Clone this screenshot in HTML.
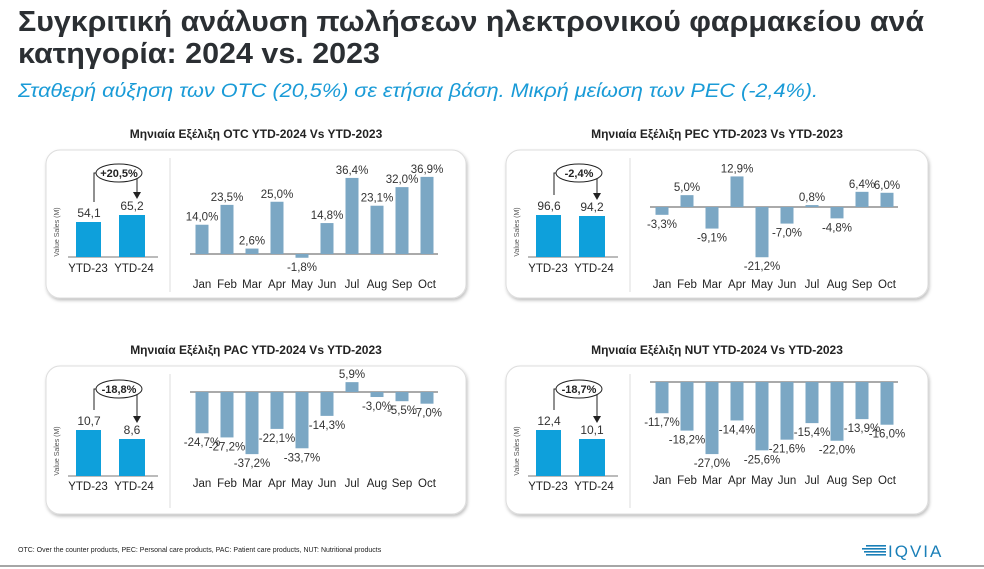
<!DOCTYPE html>
<html><head><meta charset="utf-8">
<style>
html,body{margin:0;padding:0;background:#fff;width:984px;height:569px;overflow:hidden}
svg{display:block;font-family:"Liberation Sans",sans-serif}
</style></head>
<body>
<svg id="s" width="984" height="569" viewBox="0 0 984 569" xmlns="http://www.w3.org/2000/svg">
<defs>
<filter id="sh" x="-5%" y="-5%" width="110%" height="115%"><feDropShadow dx="1" dy="2" stdDeviation="1.5" flood-color="#000" flood-opacity="0.25"/></filter>
</defs>
<text x="18" y="31" font-size="29" font-weight="bold" fill="#2b2f33" textLength="906" lengthAdjust="spacingAndGlyphs">Συγκριτική ανάλυση πωλήσεων ηλεκτρονικού φαρμακείου ανά</text>
<text x="18" y="63" font-size="29" font-weight="bold" fill="#2b2f33" textLength="362" lengthAdjust="spacingAndGlyphs">κατηγορία: 2024 vs. 2023</text>
<text x="18" y="97" font-size="19" font-style="italic" fill="#1a9bd7" textLength="800" lengthAdjust="spacingAndGlyphs">Σταθερή αύξηση των OTC (20,5%) σε ετήσια βάση. Μικρή μείωση των PEC (-2,4%).</text>
<g id="panels"></g>
<text x="18" y="552" font-size="7" fill="#222">OTC: Over the counter products, PEC: Personal care products, PAC: Patient care products, NUT: Nutritional products</text>
<g fill="#1a7fb8">
<rect x="866" y="545" width="20" height="1.6"/><rect x="862" y="548" width="24" height="1.6"/><rect x="864" y="551" width="22" height="1.6"/><rect x="866" y="554" width="20" height="1.6"/>
</g>
<text x="888" y="557" font-size="17" fill="#1a7fb8" letter-spacing="2">IQVIA</text>
<line x1="0" y1="566" x2="984" y2="566" stroke="#888" stroke-width="1.5"/>
</svg>
<script>
const M=["Jan","Feb","Mar","Apr","May","Jun","Jul","Aug","Sep","Oct"];
const P=[
 {t:"Μηνιαία Εξέλιξη OTC YTD-2024 Vs YTD-2023",x:46,y:150,w:420,ch:"+20,5%",a:"54,1",b:"65,2",at:222,bt:215,lb:257,yl:272,base:254,sc:2.09,ml:288,v:[14.0,23.5,2.6,25.0,-1.8,14.8,36.4,23.1,32.0,36.9]},
 {t:"Μηνιαία Εξέλιξη PEC YTD-2023 Vs YTD-2023",x:506,y:150,w:422,ch:"-2,4%",a:"96,6",b:"94,2",at:215,bt:216,lb:257,yl:272,base:207,sc:2.37,ml:288,v:[-3.3,5.0,-9.1,12.9,-21.2,-7.0,0.8,-4.8,6.4,6.0]},
 {t:"Μηνιαία Εξέλιξη PAC YTD-2024 Vs YTD-2023",x:46,y:366,w:420,ch:"-18,8%",a:"10,7",b:"8,6",at:430,bt:439,lb:476,yl:490,base:392,sc:1.67,ml:487,v:[-24.7,-27.2,-37.2,-22.1,-33.7,-14.3,5.9,-3.0,-5.5,-7.0]},
 {t:"Μηνιαία Εξέλιξη NUT YTD-2024 Vs YTD-2023",x:506,y:366,w:422,ch:"-18,7%",a:"12,4",b:"10,1",at:430,bt:439,lb:476,yl:490,base:382,sc:2.67,ml:484,v:[-11.7,-18.2,-27.0,-14.4,-25.6,-21.6,-15.4,-22.0,-13.9,-16.0]}
];
let h="";
for(const p of P){
 const cx=p.x+p.w/2;
 h+=`<text x="${cx}" y="${p.y-12}" font-size="12" font-weight="bold" fill="#222" text-anchor="middle">${p.t}</text>`;
 h+=`<rect x="${p.x}" y="${p.y}" width="${p.w}" height="148" rx="14" fill="#fff" stroke="#ddd" stroke-width="1" filter="url(#sh)"/>`;
 h+=`<line x1="${p.x+124}" y1="${p.y+8}" x2="${p.x+124}" y2="${p.y+142}" stroke="#ddd"/>`;
 h+=`<text transform="translate(${p.x+13},${p.lb-25}) rotate(-90)" font-size="7" fill="#555" text-anchor="middle">Value Sales (M)</text>`;
 h+=`<line x1="${p.x+22}" y1="${p.lb}" x2="${p.x+112}" y2="${p.lb}" stroke="#777"/>`;
 h+=`<rect x="${p.x+30}" y="${p.at}" width="25" height="${p.lb-p.at}" fill="#0ea0db"/>`;
 h+=`<rect x="${p.x+73}" y="${p.bt}" width="26" height="${p.lb-p.bt}" fill="#0ea0db"/>`;
 h+=`<text x="${p.x+43}" y="${p.at-5}" font-size="12" fill="#333" text-anchor="middle">${p.a}</text>`;
 h+=`<text x="${p.x+86}" y="${p.bt-5}" font-size="12" fill="#333" text-anchor="middle">${p.b}</text>`;
 h+=`<text x="${p.x+42}" y="${p.yl}" font-size="11.5" fill="#222" text-anchor="middle">YTD-23</text>`;
 h+=`<text x="${p.x+88}" y="${p.yl}" font-size="11.5" fill="#222" text-anchor="middle">YTD-24</text>`;
 const ey=p.y+23;
 h+=`<path d="M${p.x+48},${p.at-20} V${ey} H${p.x+91} V${p.bt-22}" fill="none" stroke="#222" stroke-width="1"/>`;
 h+=`<path d="M${p.x+87},${p.bt-23} L${p.x+95},${p.bt-23} L${p.x+91},${p.bt-16} Z" fill="#222"/>`;
 h+=`<ellipse cx="${p.x+73}" cy="${ey}" rx="23" ry="9" fill="#fff" stroke="#222"/>`;
 h+=`<text x="${p.x+73}" y="${ey+4}" font-size="11" font-weight="bold" fill="#222" text-anchor="middle">${p.ch}</text>`;
 h+=`<line x1="${p.x+144}" y1="${p.base}" x2="${p.x+392}" y2="${p.base}" stroke="#555"/>`;
 p.v.forEach((v,i)=>{
  const mx=p.x+156+i*25, hh=Math.abs(v)*p.sc;
  const y=v>=0?p.base-hh:p.base;
  h+=`<rect x="${mx-6.5}" y="${y}" width="13" height="${Math.max(hh,1)}" fill="#7ba7c4"/>`;
  const lbl=v.toFixed(1).replace(".",",")+"%";
  const ly=v>=0?p.base-hh-4:p.base+hh+13;
  h+=`<text x="${mx}" y="${ly}" font-size="11.5" fill="#333" text-anchor="middle">${lbl}</text>`;
  h+=`<text x="${mx}" y="${p.ml}" font-size="11.5" fill="#222" text-anchor="middle">${M[i]}</text>`;
 });
}
document.getElementById("panels").innerHTML=h;
</script>
</body></html>
